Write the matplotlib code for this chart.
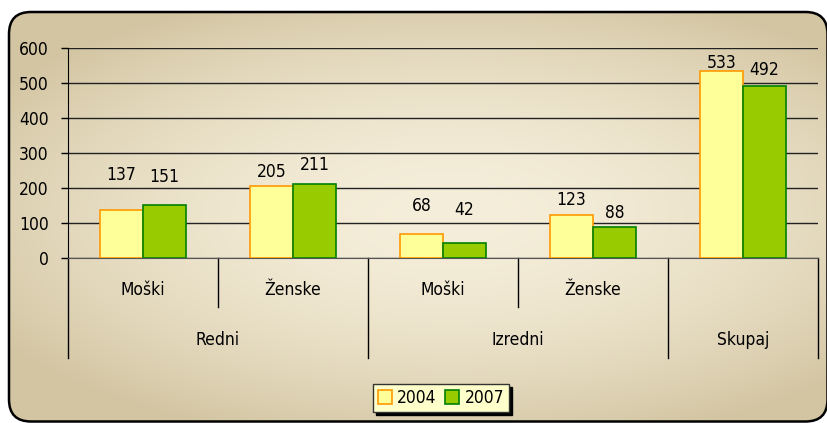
import numpy as np
import matplotlib.pyplot as plt
from matplotlib.patches import FancyBboxPatch

plt.rcParams['font.family'] = ['DejaVu Sans']
plt.rcParams['font.stretch'] = 'condensed'
plt.rcParams['font.size'] = 12.5

# data
groups = ['Moški', 'Ženske', 'Moški', 'Ženske', 'Skupaj']
vals_2004 = [137, 205, 68, 123, 533]
vals_2007 = [151, 211, 42, 88, 492]
series_names = ['2004', '2007']
# upper level of the category axis: (label, start, end)
level2 = [('Redni', 0, 2), ('Izredni', 2, 4)]

# how far each value label sits above its bar (px)
off_2004 = [35, 14, 28, 15, 8]
off_2007 = [28, 19, 33, 14, 16]

W, H = 827, 423
fig = plt.figure(figsize=(W / 100, H / 100), dpi=100)
fig.patch.set_facecolor('white')

# beige gradient background inside a rounded frame
bg = fig.add_axes([0, 0, 1, 1])
bg.set_xlim(0, W)
bg.set_ylim(H, 0)
bg.axis('off')
yy, xx = np.mgrid[0:H, 0:W]
r = np.sqrt(((xx - 450) / 540.0) ** 2 + ((yy - 215) / 235.0) ** 2)
t = np.clip(r, 0, 1) ** 1.8
inner = np.array([0xf5, 0xee, 0xda]) / 255.0
outer = np.array([0xd3, 0xc5, 0xa2]) / 255.0
img = inner[None, None, :] * (1 - t[..., None]) + outer[None, None, :] * t[..., None]
frame = FancyBboxPatch((9, 12), 818.5, 409.5,
                       boxstyle='round,pad=0,rounding_size=22',
                       facecolor='none', edgecolor='black', linewidth=1.8,
                       transform=bg.transData, zorder=3)
bg.add_patch(frame)
im = bg.imshow(img, extent=(0, W, H, 0), zorder=1)
im.set_clip_path(frame)

# main plot area
ax = fig.add_axes([68 / W, 1 - 258 / H, 750 / W, 210 / H])
ax.set_facecolor('none')
x = np.arange(len(groups)) + 0.5
bw = 43 / 150.0
b1 = ax.bar(x - bw / 2, vals_2004, bw, color='#ffff99', edgecolor='#ff9900',
            linewidth=1.2, label=series_names[0], zorder=3)
b2 = ax.bar(x + bw / 2, vals_2007, bw, color='#99cc00', edgecolor='#008000',
            linewidth=1.2, label=series_names[1], zorder=3)

for rects, offs in [(b1, off_2004), (b2, off_2007)]:
    for rect, o in zip(rects, offs):
        h = rect.get_height()
        ax.annotate(str(h), xy=(rect.get_x() + rect.get_width() / 2, h),
                    xytext=(0, o * 0.72), textcoords='offset points',
                    ha='center', va='center')

ax.set_xlim(0, len(groups))
ax.set_ylim(0, 600)
ax.set_yticks(np.arange(0, 601, 100))
ax.yaxis.grid(True, color='#222222', linewidth=1)
ax.set_axisbelow(True)
ax.tick_params(axis='y', length=5, width=1, pad=9, labelsize=12.5)
ax.set_xticks([])
for s in ['top', 'right']:
    ax.spines[s].set_visible(False)
ax.spines['left'].set_color('black')
ax.spines['bottom'].set_color('#555555')

# two-level category axis below the bars
px = 600 / 210.0
lvl1 = -(307 - 258) * px
lvl2 = -(358 - 258) * px
for xv in [1, 3]:
    ax.plot([xv, xv], [0, lvl1], color='black', lw=1, clip_on=False)
for xv in [0, 2, 4, 5]:
    ax.plot([xv, xv], [0, lvl2], color='black', lw=1, clip_on=False)
for xi, g in zip(x, groups):
    ypos = -(290 - 258) * px if g != 'Skupaj' else -(340 - 258) * px
    ax.text(xi, ypos, g, ha='center', va='center')
for name, a, b in level2:
    ax.text((a + b) / 2, -(340 - 258) * px, name, ha='center', va='center')

leg = fig.legend(handles=[b1, b2], loc='center', bbox_to_anchor=(441 / W, 1 - 398 / H),
                 ncol=2, frameon=True, fancybox=False, facecolor='#ffffcc',
                 edgecolor='#333333', framealpha=1,
                 handlelength=0.8, handleheight=0.8, handletextpad=0.3,
                 columnspacing=0.5, borderpad=0.3,
                 shadow={'color': 'black', 'alpha': 1})

fig.savefig('out.png', dpi=100)
